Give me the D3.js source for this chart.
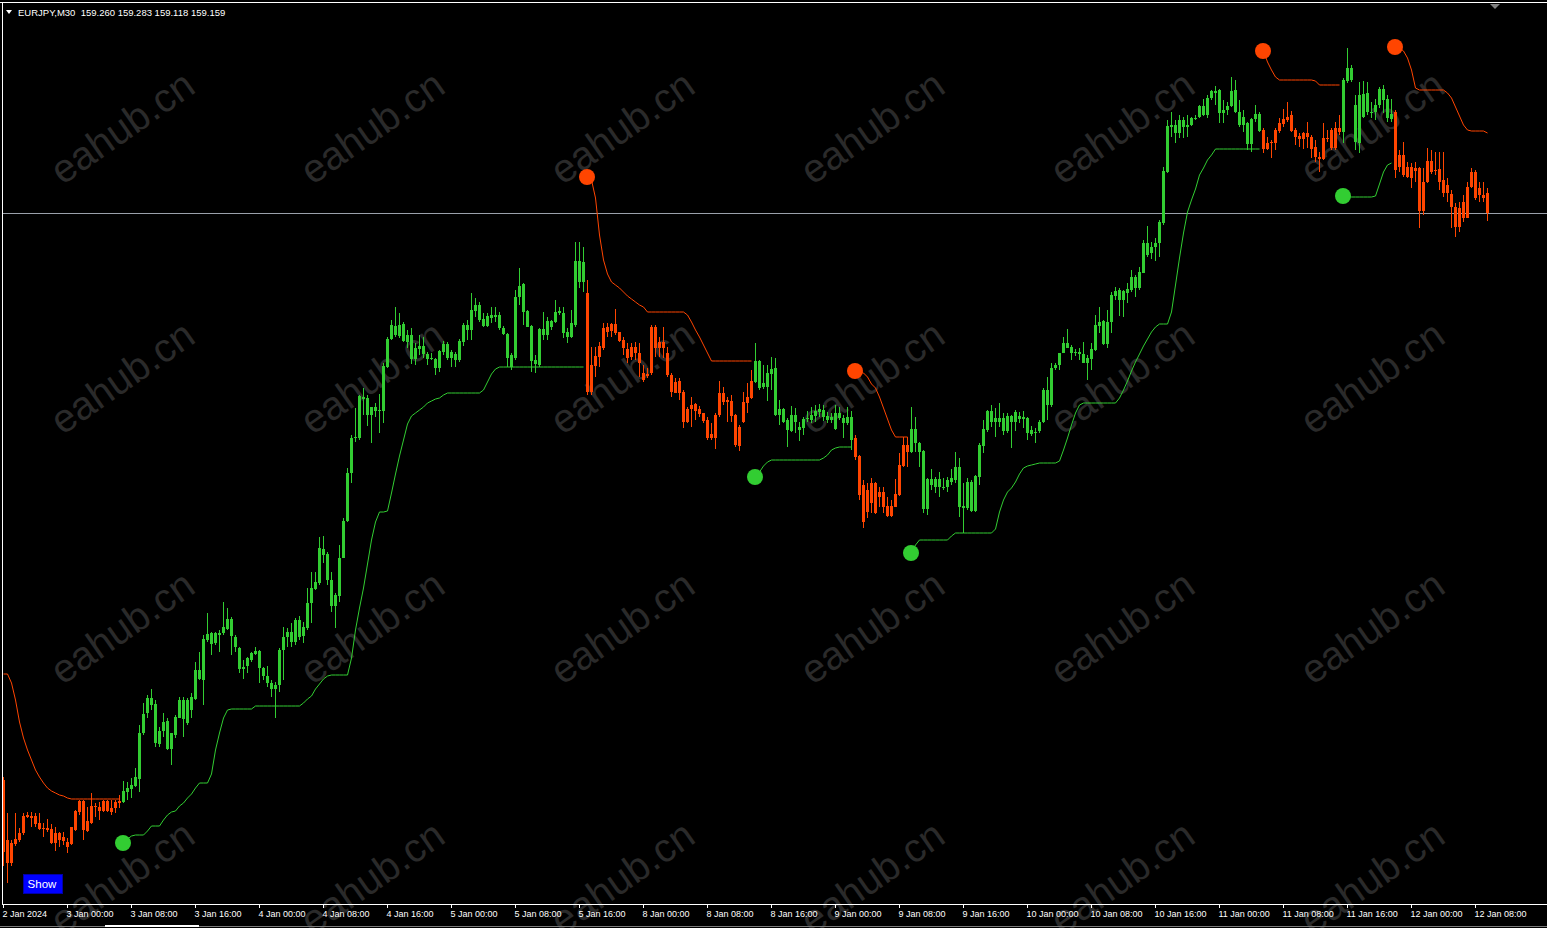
<!DOCTYPE html>
<html><head><meta charset="utf-8">
<script src="https://cdn.jsdelivr.net/npm/d3@7"></script>
<style>html,body{margin:0;padding:0;background:#000;overflow:hidden}</style>
</head><body>
<svg id="chart" width="1547" height="928"></svg>
<script>
// ---------- DATA ----------
const symbolTitle = "EURJPY,M30";
const headerValues = ["159.260", "159.283", "159.118", "159.159"];
const timeLabels = ["2 Jan 2024","3 Jan 00:00","3 Jan 08:00","3 Jan 16:00","4 Jan 00:00","4 Jan 08:00","4 Jan 16:00",
  "5 Jan 00:00","5 Jan 08:00","5 Jan 16:00","8 Jan 00:00","8 Jan 08:00","8 Jan 16:00","9 Jan 00:00","9 Jan 08:00",
  "9 Jan 16:00","10 Jan 00:00","10 Jan 08:00","10 Jan 16:00","11 Jan 00:00","11 Jan 08:00","11 Jan 16:00",
  "12 Jan 00:00","12 Jan 08:00"];
const barsPerLabel = 16;
const watermarkText = "eahub.cn";
const buttonText = "Show";

const open = [
156.325,155.91,156.01,156.005,156.025,156.06,156.14,156.145,156.145,156.11,
156.08,156.085,156.08,156.01,156.06,156.02,156.015,156.005,156.075,156.165,
156.22,156.07,156.11,156.195,156.19,156.17,156.22,156.165,156.185,156.21,
156.215,156.265,156.28,156.295,156.33,156.56,156.66,156.735,156.705,156.505,
156.57,156.62,156.48,156.55,156.635,156.725,156.61,156.74,156.73,156.875,
156.825,157.025,157.06,157.01,157.06,157.06,157.08,157.13,157.04,156.985,
156.88,156.895,156.925,156.955,156.97,156.885,156.845,156.81,156.78,156.80,
156.975,157.04,157.065,157.015,157.125,157.045,157.085,157.21,157.28,157.31,
157.48,157.455,157.325,157.195,157.245,157.435,157.62,157.86,158.04,158.035,
158.24,158.235,158.15,158.19,158.17,158.17,158.39,158.53,158.595,158.545,
158.605,158.515,158.55,158.43,158.48,158.495,158.455,158.435,158.43,158.385,
158.465,158.505,158.435,158.455,158.425,158.515,158.60,158.575,158.67,158.70,
158.63,158.595,158.65,158.64,158.65,158.585,158.555,158.45,158.435,158.74,
158.805,158.67,158.595,158.425,158.40,158.58,158.55,158.62,158.615,158.66,
158.66,158.565,158.54,158.60,158.92,158.815,158.76,158.265,158.395,158.44,
158.485,158.59,158.57,158.605,158.565,158.525,158.48,158.44,158.49,158.46,
158.36,158.345,158.36,158.59,158.485,158.515,158.46,158.35,158.26,158.32,
158.265,158.115,158.18,158.205,158.18,158.16,158.125,158.035,158.035,158.15,
158.26,158.215,158.22,158.15,157.995,158.115,158.21,158.235,158.315,158.42,
158.29,158.29,158.355,158.385,158.15,158.18,158.125,158.07,158.15,158.09,
158.085,158.13,158.125,158.145,158.165,158.175,158.145,158.125,158.16,158.135,
158.135,158.11,158.14,158.035,157.945,157.80,157.665,157.81,157.66,157.765,
157.765,157.695,157.645,157.69,157.75,157.895,158.0,157.965,158.08,158.01,
157.97,157.68,157.83,157.79,157.83,157.79,157.79,157.815,157.825,157.89,
157.695,157.685,157.815,157.67,157.84,157.995,158.075,158.17,158.115,158.135,
158.135,158.07,158.145,158.115,158.145,158.13,158.135,158.055,158.065,158.07,
158.115,158.275,158.20,158.385,158.40,158.46,158.51,158.49,158.46,158.465,
158.455,158.41,158.43,158.475,158.595,158.62,158.505,158.615,158.745,158.775,
158.725,158.76,158.775,158.84,158.785,158.86,159.01,158.96,158.99,159.01,
159.11,159.365,159.59,159.60,159.56,159.625,159.59,159.60,159.635,159.64,
159.695,159.65,159.735,159.77,159.775,159.66,159.675,159.695,159.775,159.665,
159.60,159.61,159.505,159.63,159.655,159.575,159.48,159.51,159.51,159.57,
159.605,159.625,159.65,159.575,159.545,159.53,159.56,159.54,159.49,159.44,
159.43,159.535,159.485,159.585,159.565,159.565,159.82,159.885,159.70,159.51,
159.755,159.665,159.665,159.665,159.70,159.78,159.73,159.63,159.665,159.39,
159.45,159.34,159.39,159.37,159.385,159.17,159.315,159.42,159.37,159.38,
159.325,159.26,159.255,159.19,159.09,159.215,159.135,159.29,159.365,159.25,
159.25,159.260];

const high = [
156.34,156.16,156.025,156.16,156.085,156.16,156.165,156.165,156.16,156.16,
156.11,156.13,156.105,156.09,156.065,156.065,156.035,156.09,156.175,156.225,
156.225,156.19,156.26,156.21,156.215,156.225,156.225,156.225,156.225,156.25,
156.32,156.315,156.335,156.385,156.6,156.71,156.75,156.78,156.725,156.59,
156.66,156.635,156.56,156.65,156.74,156.74,156.735,156.76,156.915,156.965,
157.05,157.16,157.065,157.065,157.075,157.215,157.185,157.14,157.05,156.99,
156.925,156.94,156.965,156.99,156.975,156.89,156.895,156.825,156.815,156.985,
157.09,157.085,157.11,157.135,157.145,157.115,157.285,157.365,157.365,157.54,
157.545,157.465,157.365,157.26,157.50,157.635,157.885,158.05,158.185,158.25,
158.285,158.25,158.19,158.21,158.255,158.41,158.54,158.625,158.69,158.66,
158.615,158.575,158.585,158.51,158.55,158.54,158.465,158.46,158.435,158.475,
158.52,158.515,158.475,158.465,158.53,158.61,158.625,158.76,158.735,158.715,
158.66,158.66,158.69,158.69,158.665,158.595,158.56,158.46,158.775,158.885,
158.81,158.675,158.60,158.45,158.585,158.665,158.64,158.625,158.725,158.69,
158.69,158.585,158.675,159.015,159.015,158.99,158.825,158.49,158.49,158.515,
158.61,158.61,158.61,158.68,158.565,158.54,158.51,158.51,158.515,158.51,
158.40,158.385,158.60,158.60,158.54,158.59,158.49,158.36,158.335,158.335,
158.275,158.19,158.24,158.21,158.195,158.16,158.14,158.11,158.16,158.32,
158.29,158.24,158.25,158.155,158.10,158.265,158.31,158.375,158.51,158.425,
158.40,158.40,158.44,158.435,158.225,158.185,158.135,158.195,158.185,158.115,
158.14,158.17,158.19,158.20,158.205,158.20,158.165,158.16,158.20,158.19,
158.15,158.19,158.17,158.05,157.95,157.825,157.81,157.835,157.815,157.79,
157.79,157.74,157.725,157.83,157.96,158.04,158.04,158.19,158.14,158.015,
157.975,157.835,157.88,157.84,157.865,157.835,157.84,157.88,157.965,157.935,
157.81,157.835,157.825,157.85,158.01,158.125,158.175,158.20,158.185,158.21,
158.16,158.16,158.15,158.175,158.165,158.17,158.14,158.095,158.085,158.125,
158.285,158.34,158.41,158.41,158.46,158.54,158.58,158.50,158.48,158.485,
158.515,158.45,158.51,158.65,158.69,158.625,158.675,158.765,158.79,158.785,
158.775,158.81,158.875,158.85,158.89,159.025,159.095,159.015,159.035,159.125,
159.39,159.625,159.665,159.625,159.65,159.64,159.65,159.64,159.65,159.70,
159.73,159.75,159.775,159.795,159.78,159.725,159.715,159.84,159.825,159.725,
159.675,159.615,159.635,159.70,159.665,159.585,159.54,159.525,159.585,159.635,
159.68,159.715,159.67,159.585,159.56,159.565,159.615,159.55,159.525,159.465,
159.61,159.575,159.585,159.615,159.65,159.835,159.985,159.90,159.75,159.815,
159.82,159.815,159.715,159.73,159.79,159.80,159.75,159.73,159.675,159.475,
159.515,159.415,159.41,159.415,159.39,159.385,159.485,159.475,159.465,159.465,
159.465,159.335,159.275,159.21,159.215,159.25,159.315,159.385,159.375,159.315,
159.315,159.283];

const low = [
155.895,155.81,155.895,155.995,156.015,156.05,156.135,156.09,156.09,156.075,
156.04,156.065,156.005,155.97,155.99,156.0,155.96,156.0,156.07,156.15,
156.025,156.065,156.105,156.14,156.125,156.165,156.165,156.15,156.16,156.185,
156.21,156.225,156.235,156.29,156.265,156.55,156.635,156.675,156.49,156.49,
156.54,156.475,156.40,156.535,156.635,156.54,156.60,156.635,156.725,156.825,
156.70,157.015,156.95,157.0,156.965,157.05,157.075,156.95,156.965,156.86,
156.83,156.86,156.915,156.95,156.81,156.825,156.79,156.74,156.635,156.765,
156.825,156.99,156.99,157.0,157.025,157.01,157.075,157.11,157.275,157.30,
157.41,157.30,157.165,157.085,157.215,157.435,157.615,157.81,158.015,158.025,
158.15,158.095,158.01,158.14,158.06,158.11,158.385,158.525,158.54,158.535,
158.515,158.485,158.405,158.40,158.45,158.435,158.40,158.425,158.35,158.365,
158.45,158.425,158.39,158.39,158.415,158.495,158.525,158.525,158.64,158.615,
158.59,158.59,158.61,158.615,158.575,158.55,158.39,158.375,158.425,158.70,
158.60,158.59,158.365,158.36,158.39,158.525,158.525,158.575,158.61,158.65,
158.535,158.51,158.535,158.59,158.785,158.765,158.25,158.25,158.34,158.39,
158.475,158.54,158.54,158.55,158.515,158.45,158.41,158.425,158.425,158.34,
158.315,158.335,158.35,158.44,158.44,158.435,158.34,158.24,158.26,158.225,
158.085,158.11,158.09,158.125,158.14,158.11,158.025,158.025,157.98,158.14,
158.20,158.115,158.115,157.99,157.97,158.11,158.16,158.23,158.31,158.275,
158.28,158.22,158.275,158.145,158.10,158.11,157.99,158.065,158.06,158.02,
158.05,158.115,158.11,158.115,158.14,158.12,158.11,158.11,158.075,158.125,
158.035,158.10,157.975,157.925,157.725,157.585,157.635,157.66,157.655,157.69,
157.66,157.64,157.64,157.69,157.745,157.89,157.89,157.96,157.965,157.89,
157.66,157.65,157.775,157.76,157.74,157.775,157.765,157.80,157.81,157.64,
157.56,157.675,157.665,157.665,157.80,157.96,158.065,158.09,158.04,158.09,
158.05,158.06,157.985,158.07,158.11,158.085,158.025,158.045,158.01,158.06,
158.11,158.125,158.19,158.375,158.375,158.46,158.485,158.425,158.445,158.425,
158.41,158.325,158.375,158.47,158.56,158.50,158.485,158.56,158.725,158.645,
158.64,158.71,158.765,158.74,158.775,158.86,158.94,158.93,158.92,158.94,
159.10,159.36,159.54,159.51,159.535,159.535,159.54,159.595,159.625,159.635,
159.645,159.635,159.725,159.70,159.61,159.61,159.65,159.69,159.66,159.59,
159.565,159.475,159.465,159.615,159.565,159.46,159.475,159.435,159.475,159.56,
159.59,159.615,159.565,159.50,159.49,159.48,159.485,159.435,159.415,159.365,
159.425,159.515,159.475,159.475,159.55,159.51,159.81,159.815,159.475,159.46,
159.635,159.65,159.635,159.625,159.685,159.66,159.615,159.615,159.335,159.365,
159.34,159.335,159.285,159.315,159.085,159.15,159.31,159.355,159.35,159.275,
159.24,159.215,159.085,159.04,159.065,159.115,159.135,159.285,159.225,159.215,
159.215,159.118];

const close = [
155.965,156.025,155.91,156.03,156.06,156.145,156.15,156.135,156.105,156.08,
156.085,156.075,156.01,156.06,156.025,156.04,155.99,156.09,156.17,156.22,
156.075,156.12,156.195,156.19,156.17,156.22,156.17,156.185,156.215,156.22,
156.27,156.285,156.30,156.34,156.56,156.655,156.735,156.70,156.51,156.57,
156.615,156.48,156.56,156.64,156.725,156.63,156.725,156.675,156.875,156.83,
157.03,157.055,157.005,157.06,157.05,157.09,157.13,157.045,156.99,156.88,
156.89,156.935,156.96,156.97,156.885,156.845,156.81,156.78,156.80,156.975,
157.04,157.065,157.015,157.125,157.04,157.09,157.21,157.285,157.315,157.485,
157.45,157.325,157.195,157.25,157.435,157.62,157.86,158.035,158.04,158.245,
158.23,158.15,158.19,158.17,158.175,158.395,158.53,158.60,158.55,158.60,
158.52,158.55,158.43,158.485,158.495,158.455,158.43,158.435,158.385,158.47,
158.505,158.435,158.465,158.425,158.52,158.60,158.575,158.675,158.70,158.625,
158.595,158.645,158.635,158.65,158.585,158.555,158.435,158.39,158.74,158.795,
158.665,158.59,158.42,158.405,158.58,158.55,158.62,158.59,158.665,158.67,
158.56,158.54,158.61,158.92,158.815,158.915,158.265,158.40,158.445,158.495,
158.585,158.565,158.605,158.56,158.52,158.485,158.435,158.49,158.46,158.41,
158.325,158.355,158.59,158.485,158.515,158.485,158.35,158.265,158.315,158.26,
158.115,158.18,158.20,158.17,158.155,158.12,158.035,158.055,158.15,158.26,
158.215,158.225,158.145,158.0,158.09,158.215,158.24,158.32,158.42,158.285,
158.31,158.36,158.38,158.15,158.18,158.115,158.075,158.15,158.115,158.075,
158.13,158.135,158.15,158.17,158.18,158.14,158.125,158.14,158.08,158.16,
158.11,158.14,158.025,157.94,157.75,157.615,157.775,157.71,157.81,157.74,
157.69,157.645,157.695,157.755,157.90,158.0,157.965,158.08,158.01,157.965,
157.68,157.83,157.80,157.83,157.79,157.79,157.825,157.835,157.89,157.69,
157.685,157.815,157.67,157.845,158.0,158.08,158.17,158.115,158.135,158.115,
158.07,158.145,158.115,158.165,158.13,158.14,158.06,158.075,158.065,158.115,
158.275,158.20,158.385,158.40,158.46,158.51,158.485,158.46,158.465,158.455,
158.41,158.435,158.48,158.60,158.615,158.505,158.615,158.75,158.77,158.725,
158.77,158.78,158.84,158.785,158.865,159.01,158.95,158.99,159.01,159.115,
159.37,159.595,159.60,159.56,159.625,159.59,159.60,159.635,159.635,159.695,
159.65,159.735,159.77,159.76,159.66,159.675,159.695,159.77,159.665,159.60,
159.64,159.505,159.63,159.655,159.57,159.48,159.51,159.515,159.575,159.61,
159.63,159.64,159.57,159.54,159.53,159.56,159.54,159.48,159.44,159.43,
159.535,159.53,159.575,159.485,159.585,159.825,159.885,159.825,159.515,159.75,
159.64,159.76,159.665,159.70,159.78,159.725,159.635,159.655,159.375,159.45,
159.35,159.39,159.335,159.385,159.17,159.315,159.42,159.365,159.375,159.315,
159.26,159.30,159.19,159.09,159.185,159.135,159.29,159.365,159.235,159.285,
159.235,159.159];

// Trailing stop indicator: down-trend (orange) segments and up-trend (green) segments
const downStarts = [0, 146, 213, 315, 348];
const downSeg1 = [156.855,156.855,156.81,156.725,156.615,156.535,156.475,156.425,156.375,156.34,
  156.31,156.285,156.27,156.26,156.25,156.245,156.235,156.23,156.23,156.23,
  156.23,156.23,156.23,156.23,156.23,156.23,156.23,156.23,156.23,156.23];
const downSeg2 = [159.34,159.325,159.235,159.05,158.925,158.855,158.815,158.80,158.785,158.765,
  158.745,158.73,158.715,158.70,158.69,158.665,158.665,158.665,158.665,158.665,
  158.665,158.665,158.665,158.665,158.665,158.65,158.615,158.575,158.54,158.50,
  158.46,158.42,158.42,158.42,158.42,158.42,158.42,158.42,158.42,158.42,158.42,158.42];
const downSeg3 = [158.37,158.365,158.36,158.34,158.305,158.285,158.24,158.185,158.13,158.075,158.04,158.04,158.04,158.04];
const downSeg4 = [159.97,159.915,159.875,159.84,159.825,159.825,159.825,159.825,159.825,159.825,
  159.825,159.825,159.825,159.82,159.80,159.80,159.80,159.80,159.80,159.80];
const downSeg5 = [159.99,159.985,159.97,159.935,159.875,159.785,159.775,159.775,159.775,159.775,
  159.775,159.775,159.775,159.76,159.735,159.69,159.645,159.60,159.575,159.57,159.57,159.57,159.57,159.56];

const upStarts = [30, 188, 227, 335];
const upSeg1 = [156.01,156.03,156.045,156.05,156.05,156.05,156.07,156.095,156.095,156.095,
  156.125,156.15,156.165,156.17,156.195,156.21,156.235,156.255,156.285,156.31,
  156.31,156.31,156.355,156.475,156.56,156.635,156.675,156.68,156.68,156.68,
  156.68,156.68,156.68,156.695,156.695,156.695,156.695,156.695,156.695,156.695,
  156.695,156.695,156.695,156.695,156.695,156.71,156.73,156.745,156.78,156.805,
  156.83,156.845,156.85,156.85,156.85,156.85,156.85,156.935,157.075,157.185,
  157.285,157.405,157.525,157.615,157.665,157.665,157.67,157.76,157.855,157.945,
  158.025,158.105,158.145,158.16,158.175,158.19,158.21,158.22,158.23,158.235,
  158.25,158.26,158.26,158.26,158.26,158.26,158.26,158.26,158.26,158.26,
  158.275,158.315,158.355,158.38,158.39,158.39,158.39,158.39,158.39,158.39,
  158.39,158.39,158.39,158.39,158.39,158.39,158.39,158.39,158.39,158.39,
  158.39,158.39,158.39,158.39,158.39,158.39];
const upSeg2 = [157.84,157.865,157.895,157.915,157.925,157.925,157.925,157.925,157.925,157.925,
  157.925,157.925,157.925,157.925,157.925,157.925,157.925,157.935,157.95,157.975,
  157.985,157.99,157.99,157.99,157.99];
const upSeg3 = [157.46,157.50,157.525,157.525,157.525,157.525,157.525,157.525,157.525,157.525,
  157.545,157.56,157.56,157.56,157.56,157.56,157.56,157.56,157.56,157.56,
  157.56,157.58,157.665,157.725,157.765,157.785,157.815,157.855,157.885,157.895,
  157.90,157.905,157.91,157.91,157.91,157.91,157.91,157.92,157.975,158.035,
  158.10,158.16,158.20,158.21,158.21,158.21,158.21,158.21,158.21,158.21,
  158.21,158.21,158.235,158.275,158.32,158.37,158.415,158.455,158.495,158.53,
  158.565,158.59,158.605,158.605,158.605,158.665,158.80,158.935,159.06,159.165,
  159.225,159.28,159.35,159.385,159.425,159.45,159.48,159.48,159.48,159.48,
  159.48,159.48,159.48,159.48,159.48,159.48,159.48,159.48];
const upSeg4 = [159.245,159.24,159.24,159.24,159.24,159.24,159.24,159.24,159.245,159.305,159.365,159.40,159.41];

// ---------- COLOURS ----------
const GREEN = "#32CD32", ORANGE = "#FF4500";

// ---------- BUILD ----------
const N = close.length;
const bars = d3.range(N).map(i => ({i, o: open[i], h: high[i], l: low[i], c: close[i]}));
function expand(starts, segs) {
  const a = new Array(N).fill(null);
  starts.forEach((s, k) => segs[k].forEach((v, j) => { a[s + j] = v; }));
  return a;
}
const downLine = expand(downStarts, [downSeg1, downSeg2, downSeg3, downSeg4, downSeg5]);
const upLine = expand(upStarts, [upSeg1, upSeg2, upSeg3, upSeg4]);

const W = 1547, H = 928;
const svg = d3.select("#chart");
const x = d3.scaleLinear().domain([0, N - 1]).range([3, 3 + 4 * (N - 1)]);
const y = d3.scaleLinear().domain([155.585, 160.225]).range([H, 0]);

svg.append("rect").attr("width", W).attr("height", H).attr("fill", "#000");

// watermark grid
const wmCols = d3.range(6), wmRows = d3.range(4);
const wm = svg.append("g");
wmRows.forEach(r => wmCols.forEach(c => {
  wm.append("text")
    .attr("transform", `translate(${122 + 250 * c},${127 + 250 * r}) rotate(-35)`)
    .attr("text-anchor", "middle").attr("dominant-baseline", "central")
    .attr("font-family", "Liberation Sans, Arial, sans-serif").attr("font-size", 40)
    .attr("fill", "#2a2a2a").text(watermarkText);
}));

// bid price line at last close
svg.append("line").attr("x1", 3).attr("x2", W).attr("y1", Math.round(y(close[N - 1])) + 0.5)
  .attr("y2", Math.round(y(close[N - 1])) + 0.5).attr("stroke", "#9aa0aa").attr("stroke-width", 1);

// candles
const colorOf = i => upLine[i] != null ? GREEN : ORANGE;
const cg = svg.append("g").attr("shape-rendering", "crispEdges");
cg.selectAll("line.wick").data(bars).join("line").attr("class", "wick")
  .attr("x1", d => x(d.i) + 0.5).attr("x2", d => x(d.i) + 0.5)
  .attr("y1", d => y(d.h)).attr("y2", d => y(d.l))
  .attr("stroke", d => colorOf(d.i)).attr("stroke-width", 1);
cg.selectAll("rect.body").data(bars).join("rect").attr("class", "body")
  .attr("x", d => x(d.i) - 1).attr("width", 3)
  .attr("y", d => y(Math.max(d.o, d.c)))
  .attr("height", d => Math.max(1, y(Math.min(d.o, d.c)) - y(Math.max(d.o, d.c))))
  .attr("fill", d => colorOf(d.i));

// indicator lines
const lineGen = d3.line().defined(d => d.v != null).x(d => x(d.i) + 0.5).y(d => y(d.v));
svg.append("path").datum(downLine.map((v, i) => ({i, v})))
  .attr("d", lineGen).attr("fill", "none").attr("stroke", ORANGE).attr("stroke-width", 1);
svg.append("path").datum(upLine.map((v, i) => ({i, v})))
  .attr("d", lineGen).attr("fill", "none").attr("stroke", GREEN).attr("stroke-width", 1);

// trend change dots
const dots = [];
downStarts.forEach(s => { if (s > 0) dots.push({i: s, v: downLine[s], c: ORANGE}); });
upStarts.forEach(s => dots.push({i: s, v: upLine[s], c: GREEN}));
svg.selectAll("circle.dot").data(dots).join("circle").attr("class", "dot")
  .attr("cx", d => x(d.i)).attr("cy", d => y(d.v)).attr("r", 8).attr("fill", d => d.c);

// frame
svg.append("line").attr("x1", 0).attr("x2", W).attr("y1", 2.5).attr("y2", 2.5).attr("stroke", "#fff");
svg.append("line").attr("x1", 2.5).attr("x2", 2.5).attr("y1", 2.5).attr("y2", 904.5).attr("stroke", "#fff");
svg.append("line").attr("x1", 2).attr("x2", W).attr("y1", 904.5).attr("y2", 904.5).attr("stroke", "#fff");

// time axis
const tickIdx = timeLabels.map((_, k) => k * barsPerLabel);
const axis = d3.axisBottom(x).tickValues(tickIdx).tickSize(4).tickFormat((d, k) => timeLabels[k]);
const ag = svg.append("g").attr("transform", "translate(0,904)").call(axis);
ag.select(".domain").remove();
ag.selectAll(".tick line").attr("stroke", "#fff");
ag.selectAll(".tick text").attr("fill", "#fff").attr("text-anchor", "start")
  .attr("x", -1).attr("y", 13).attr("dy", 0)
  .attr("font-family", "Liberation Sans, Arial, sans-serif").attr("font-size", 9);

// bottom strip
svg.append("rect").attr("x", 0).attr("y", 926).attr("width", W).attr("height", 1).attr("fill", "#7a7a7a");
svg.append("rect").attr("x", 105).attr("y", 925).attr("width", 94).attr("height", 2).attr("fill", "#fff");

// header
svg.append("path").attr("d", "M6,10 L12,10 L9,14 Z").attr("fill", "#fff");
svg.append("text").attr("x", 18).attr("y", 16).attr("fill", "#fff")
  .attr("font-family", "Liberation Sans, Arial, sans-serif").attr("font-size", 9.5)
  .attr("xml:space", "preserve").style("white-space", "pre")
  .text(symbolTitle + "  " + headerValues.join(" "));
svg.append("path").attr("d", "M1490,4 L1500,4 L1495,9 Z").attr("fill", "#808080");

// Show button
svg.append("rect").attr("x", 23.5).attr("y", 874.5).attr("width", 39).attr("height", 19)
  .attr("fill", "#0000FF").attr("stroke", "#0000a8");
svg.append("text").attr("x", 42).attr("y", 888).attr("text-anchor", "middle").attr("fill", "#fff")
  .attr("font-family", "Liberation Sans, Arial, sans-serif").attr("font-size", 11.5).text(buttonText);
</script>
</body></html>
